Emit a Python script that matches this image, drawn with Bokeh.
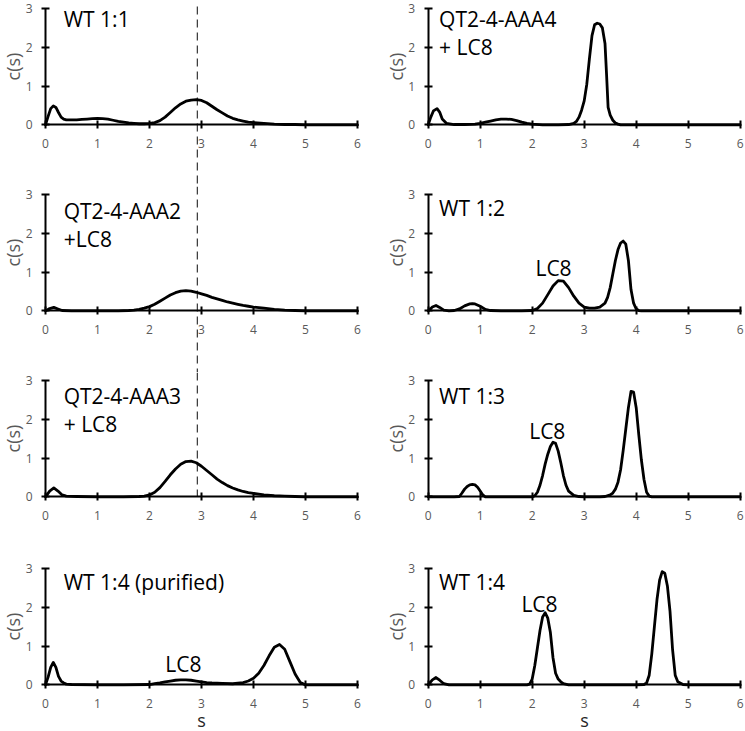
from bokeh.plotting import figure
from bokeh.layouts import column, row
from bokeh.models import Range1d, FixedTicker
from bokeh.core.properties import value
from bokeh.embed import file_html
from bokeh.resources import INLINE

# ---------------- data ----------------
wt11_x = [0, 0.05, 0.1, 0.15, 0.2, 0.25, 0.3, 0.35, 0.4, 0.5, 0.6, 0.7, 0.8, 0.9, 1.0, 1.1, 1.2, 1.3, 1.4, 1.5,
          1.6, 1.7, 1.8, 1.9, 2.0, 2.1, 2.2, 2.3, 2.4, 2.5, 2.6, 2.7, 2.8, 2.9, 3.0, 3.1, 3.2, 3.3, 3.4, 3.5,
          3.6, 3.7, 3.8, 3.9, 4.0, 4.2, 4.4, 4.6, 4.8, 5.0, 5.5, 6.0]
wt11_y = [0, 0.22, 0.42, 0.49, 0.45, 0.32, 0.2, 0.15, 0.13, 0.13, 0.13, 0.14, 0.15, 0.16, 0.17, 0.16, 0.15, 0.12,
          0.09, 0.07, 0.05, 0.04, 0.03, 0.03, 0.04, 0.06, 0.11, 0.2, 0.32, 0.44, 0.54, 0.61, 0.64, 0.65, 0.63,
          0.57, 0.48, 0.39, 0.31, 0.23, 0.17, 0.13, 0.1, 0.07, 0.06, 0.04, 0.02, 0.01, 0.01, 0.0, 0.0, 0.0]

aaa4_x = [0, 0.05, 0.1, 0.17, 0.22, 0.27, 0.35, 0.5, 0.7, 0.9, 1.0, 1.1, 1.2, 1.3, 1.4, 1.5, 1.6, 1.7, 1.8, 1.9,
          2.0, 2.2, 2.5, 2.7, 2.8, 2.85, 2.9, 2.95, 3.0, 3.05, 3.1, 3.15, 3.2, 3.25, 3.3, 3.35, 3.4, 3.43, 3.46,
          3.5, 3.55, 3.6, 3.65, 3.7, 4.0, 5.0, 6.0]
aaa4_y = [0, 0.2, 0.36, 0.42, 0.33, 0.15, 0.04, 0.01, 0.01, 0.02, 0.04, 0.07, 0.1, 0.13, 0.15, 0.15, 0.14, 0.11,
          0.07, 0.04, 0.02, 0.0, 0.0, 0.01, 0.04, 0.09, 0.2, 0.38, 0.62, 1.05, 1.7, 2.3, 2.58, 2.62, 2.6, 2.5,
          2.1, 1.3, 0.45, 0.25, 0.12, 0.05, 0.02, 0.0, 0.0, 0.0, 0.0]

aaa2_x = [0, 0.08, 0.16, 0.24, 0.32, 0.5, 1.0, 1.4, 1.6, 1.7, 1.8, 1.9, 2.0, 2.1, 2.2, 2.3, 2.4, 2.5, 2.6, 2.7,
          2.8, 2.9, 3.0, 3.1, 3.2, 3.3, 3.4, 3.5, 3.6, 3.7, 3.8, 3.9, 4.0, 4.2, 4.4, 4.6, 4.8, 5.0, 5.5, 6.0]
aaa2_y = [0, 0.06, 0.09, 0.05, 0.01, 0.0, 0.0, 0.0, 0.01, 0.02, 0.04, 0.07, 0.11, 0.17, 0.25, 0.33, 0.41, 0.47,
          0.51, 0.52, 0.51, 0.48, 0.44, 0.4, 0.35, 0.31, 0.27, 0.23, 0.2, 0.17, 0.14, 0.12, 0.1, 0.07, 0.04,
          0.02, 0.01, 0.0, 0.0, 0.0]

wt12_x = [0, 0.08, 0.15, 0.22, 0.3, 0.4, 0.5, 0.6, 0.7, 0.8, 0.85, 0.9, 1.0, 1.1, 1.2, 1.4, 1.8, 2.0, 2.1, 2.2,
          2.3, 2.4, 2.5, 2.6, 2.7, 2.8, 2.9, 3.0, 3.1, 3.2, 3.3, 3.4, 3.45, 3.5, 3.55, 3.6, 3.65, 3.7, 3.75,
          3.8, 3.85, 3.9, 3.95, 4.0, 4.05, 4.1, 4.3, 5.0, 6.0]
wt12_y = [0, 0.1, 0.14, 0.09, 0.02, 0.0, 0.01, 0.05, 0.13, 0.18, 0.19, 0.18, 0.12, 0.04, 0.01, 0.0, 0.0, 0.01,
          0.06, 0.2, 0.42, 0.64, 0.78, 0.77, 0.6, 0.38, 0.2, 0.1, 0.07, 0.07, 0.1, 0.2, 0.35, 0.6, 0.95, 1.3,
          1.58, 1.75, 1.8, 1.72, 1.3, 0.55, 0.2, 0.05, 0.01, 0.0, 0.0, 0.0, 0.0]

aaa3_x = [0, 0.08, 0.16, 0.24, 0.32, 0.4, 0.6, 1.0, 1.5, 1.8, 1.9, 2.0, 2.1, 2.2, 2.3, 2.4, 2.5, 2.6, 2.7, 2.8,
          2.9, 3.0, 3.1, 3.2, 3.3, 3.4, 3.5, 3.6, 3.7, 3.8, 3.9, 4.0, 4.2, 4.4, 4.6, 4.8, 5.0, 5.5, 6.0]
aaa3_y = [0, 0.15, 0.23, 0.15, 0.05, 0.02, 0.01, 0.0, 0.0, 0.01, 0.02, 0.05, 0.12, 0.24, 0.4, 0.57, 0.72, 0.84,
          0.91, 0.92, 0.88, 0.79, 0.68, 0.57, 0.46, 0.37, 0.29, 0.23, 0.18, 0.14, 0.11, 0.09, 0.05, 0.03, 0.02,
          0.01, 0.0, 0.0, 0.0]

wt13_x = [0, 0.5, 0.6, 0.65, 0.7, 0.75, 0.8, 0.85, 0.9, 0.95, 1.0, 1.05, 1.1, 1.5, 2.0, 2.05, 2.1, 2.15, 2.2,
          2.25, 2.3, 2.35, 2.4, 2.45, 2.5, 2.55, 2.6, 2.65, 2.7, 2.8, 2.9, 3.0, 3.3, 3.4, 3.5, 3.55, 3.6, 3.65,
          3.7, 3.75, 3.8, 3.85, 3.9, 3.95, 4.0, 4.05, 4.1, 4.15, 4.2, 4.25, 4.3, 5.0, 6.0]
wt13_y = [0, 0, 0.01, 0.1, 0.2, 0.27, 0.31, 0.32, 0.31, 0.25, 0.15, 0.05, 0.0, 0.0, 0.0, 0.03, 0.12, 0.3, 0.55,
          0.85, 1.1, 1.3, 1.41, 1.38, 1.18, 0.88, 0.55, 0.3, 0.15, 0.04, 0.01, 0.0, 0.0, 0.01, 0.05, 0.1, 0.2,
          0.38, 0.7, 1.2, 1.75, 2.3, 2.72, 2.7, 2.3, 1.6, 0.95, 0.45, 0.12, 0.02, 0.0, 0.0, 0.0]

wt14p_x = [0, 0.05, 0.1, 0.15, 0.2, 0.25, 0.3, 0.35, 0.4, 0.5, 1.0, 1.5, 2.0, 2.1, 2.2, 2.3, 2.4, 2.5, 2.6, 2.7,
           2.8, 2.9, 3.0, 3.1, 3.2, 3.4, 3.6, 3.8, 3.9, 4.0, 4.1, 4.2, 4.3, 4.4, 4.5, 4.6, 4.7, 4.8, 4.9, 5.0,
           5.5, 6.0]
wt14p_y = [0, 0.2, 0.45, 0.58, 0.45, 0.22, 0.1, 0.05, 0.02, 0.01, 0.0, 0.0, 0.01, 0.03, 0.05, 0.08, 0.1, 0.12,
           0.13, 0.13, 0.12, 0.1, 0.08, 0.06, 0.05, 0.04, 0.03, 0.06, 0.1, 0.17, 0.3, 0.5, 0.75, 0.97, 1.04,
           0.92, 0.6, 0.28, 0.06, 0.0, 0.0, 0.0]

wt14_x = [0, 0.08, 0.15, 0.22, 0.3, 0.4, 1.0, 1.9, 1.95, 2.0, 2.05, 2.1, 2.15, 2.2, 2.25, 2.3, 2.35, 2.4, 2.45,
          2.5, 2.55, 2.6, 2.7, 3.0, 4.0, 4.15, 4.2, 4.25, 4.3, 4.35, 4.4, 4.45, 4.5, 4.55, 4.6, 4.65, 4.7,
          4.75, 4.8, 4.9, 5.0, 6.0]
wt14_y = [0, 0.13, 0.19, 0.12, 0.03, 0.0, 0.0, 0.0, 0.02, 0.15, 0.5, 0.95, 1.4, 1.75, 1.86, 1.72, 1.35, 0.7,
          0.3, 0.15, 0.08, 0.03, 0.0, 0.0, 0.0, 0.01, 0.05, 0.25, 0.8, 1.5, 2.2, 2.7, 2.92, 2.88, 2.55, 1.9,
          0.9, 0.25, 0.08, 0.01, 0.0, 0.0]

# panel titles (lines) and LC8 annotations
titles = [
    ["WT 1:1"], ["QT2-4-AAA4", "+ LC8"],
    ["QT2-4-AAA2", "+LC8"], ["WT 1:2"],
    ["QT2-4-AAA3", "+ LC8"], ["WT 1:3"],
    ["WT 1:4 (purified)"], ["WT 1:4"],
]
title_y = [2.74, 2.74, 2.58, 2.64, 2.6, 2.6, 2.65, 2.65]
lc8_x = [None, None, None, 2.41, None, 2.29, 2.65, 2.14]
lc8_y = [None, None, None, 1.11, None, 1.71, 0.54, 2.09]
series = [(wt11_x, wt11_y), (aaa4_x, aaa4_y), (aaa2_x, aaa2_y), (wt12_x, wt12_y),
          (aaa3_x, aaa3_y), (wt13_x, wt13_y), (wt14p_x, wt14p_y), (wt14_x, wt14_y)]
dash_s = 2.92
dash_top = 3.05
x_ticks = [0, 1, 2, 3, 4, 5, 6]
y_ticks = [0, 1, 2, 3]

# ---------------- layout ----------------
FONT = "Open Sans"
GRAY = "#595959"
PX_PER_Y = 38.8
PX_PER_X = 52.0
COL_W = [383, 361]
AX_LEFT = [45, 44.7]          # local px of the y axis in each column
ROW_H = [186, 186, 188, 170]
TOP_PAD = 8                   # local px of y=3 in each row

figs = []
for i, (xs, ys) in enumerate(series):
    r, c = divmod(i, 2)
    w, h = COL_W[c], ROW_H[r]
    x0 = -AX_LEFT[c] / PX_PER_X
    x1 = x0 + w / PX_PER_X
    y1 = 3 + TOP_PAD / PX_PER_Y
    y0 = y1 - h / PX_PER_Y
    p = figure(width=w, height=h, output_backend="svg", toolbar_location=None,
               x_range=Range1d(x0, x1), y_range=Range1d(y0, y1), min_border=0,
               outline_line_color=None, background_fill_color="white", border_fill_color="white")
    p.grid.visible = False
    for ax in (p.xaxis[0], p.yaxis[0]):
        ax.fixed_location = 0
        ax.axis_line_color = "black"
        ax.axis_line_width = 2
        ax.major_tick_line_color = "black"
        ax.major_tick_line_width = 2
        ax.major_tick_in = 4
        ax.major_tick_out = 4
        ax.minor_tick_line_color = None
        ax.major_label_text_color = GRAY
        ax.major_label_text_font = FONT
        ax.major_label_text_font_size = "12px"
    p.xaxis[0].bounds = (0, 6)
    p.yaxis[0].bounds = (0, 3)
    p.xaxis[0].ticker = FixedTicker(ticks=x_ticks)
    p.yaxis[0].ticker = FixedTicker(ticks=y_ticks)
    p.xaxis[0].major_label_standoff = 10
    p.yaxis[0].major_label_standoff = 9
    p.yaxis[0].axis_label = "c(s)"
    p.yaxis[0].axis_label_text_font = FONT
    p.yaxis[0].axis_label_text_font_size = "18px"
    p.yaxis[0].axis_label_text_font_style = "normal"
    p.yaxis[0].axis_label_text_color = GRAY
    p.yaxis[0].axis_label_standoff = -2
    if r == 3:
        p.xaxis[0].axis_label = "s"
        p.xaxis[0].axis_label_text_font = FONT
        p.xaxis[0].axis_label_text_font_size = "18px"
        p.xaxis[0].axis_label_text_font_style = "normal"
        p.xaxis[0].axis_label_text_color = "#262626"
        p.xaxis[0].axis_label_standoff = -3

    if c == 0 and r < 3:
        ytop = dash_top if r == 0 else y1
        ybot = 0 if r == 2 else y0
        p.segment(x0=[dash_s], y0=[ytop], x1=[dash_s], y1=[ybot], line_color="#333333",
                  line_width=1.2, line_dash="8 5")

    p.line(xs, ys, line_color="black", line_width=2.8, line_join="round", line_cap="round")

    tx = 0.35 if c == 0 else 0.21
    lines = titles[i]
    p.text(x=[tx] * len(lines), y=[title_y[i] - k * 0.72 for k in range(len(lines))], text=lines,
           text_font=value(FONT), text_font_size="21px", text_color="black",
           text_align="left", text_baseline="middle")
    if lc8_x[i] is not None:
        p.text(x=[lc8_x[i]], y=[lc8_y[i]], text=["LC8"], text_font=value(FONT), text_font_size="21px",
               text_color="black", text_align="center", text_baseline="middle")
    figs.append(p)

layout = column([row([figs[2 * r], figs[2 * r + 1]], spacing=0) for r in range(4)], spacing=0)
open("out.html", "w").write(file_html(layout, INLINE))
